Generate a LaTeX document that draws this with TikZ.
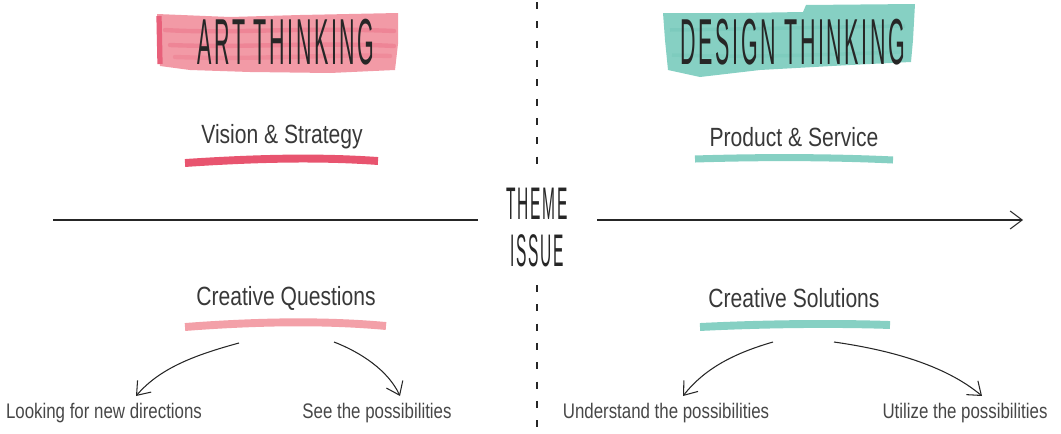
\documentclass[tikz,border=0pt]{standalone}
\usepackage{fontspec}
\setmainfont{Liberation Sans}
\newfontfamily\titlefont[FakeStretch=0.33,LetterSpace=4]{Liberation Sans}
\newfontfamily\themefont[FakeStretch=0.34,LetterSpace=4]{Liberation Sans}
\newfontfamily\handfont[FakeStretch=0.8]{Liberation Sans}
\usetikzlibrary{arrows.meta}
\definecolor{artpink}{HTML}{F29AA6}
\definecolor{artdark}{HTML}{E8607A}
\definecolor{visionpink}{HTML}{E8546F}
\definecolor{questpink}{HTML}{F3A0A8}
\definecolor{teal}{HTML}{86D0C3}
\definecolor{tealdark}{HTML}{74C6B8}
\begin{document}
\begin{tikzpicture}[x=0.02cm,y=-0.02cm,
  title/.style={font=\titlefont\fontsize{37}{37}\selectfont, text=black!85, inner sep=0},
  themetext/.style={font=\themefont\fontsize{26}{26}\selectfont, text=black!85, inner sep=0, text height=19pt, text depth=0pt},
  sub/.style={font=\handfont\fontsize{15}{18}\selectfont, text=black!78, inner sep=0},
  lbl/.style={font=\handfont\fontsize{12}{14}\selectfont, text=black!72, inner sep=0},
  conn/.style={line width=0.6pt, black!85, -{Straight Barb[length=2.4mm,width=3.6mm]}},
  axis/.style={line width=0.6pt, black!85},
  divider/.style={line width=0.6pt, black!85, dash pattern=on 4pt off 7pt},
  brushline/.style={line width=#1, line cap=butt},
  streak/.style={line width=2.5pt, artdark, opacity=0.35, line cap=round}
]
\useasboundingbox (0,0) rectangle (1061,433);

% ---------- brush bands ----------
\fill[artpink] (157,14) -- (230,17) -- (300,15) -- (398,13) -- (398,44) -- (395,70)
  -- (330,73) -- (250,72) -- (190,70) -- (160,66) -- (158,40) -- cycle;
\draw[streak] (165,30) .. controls (230,34) and (300,27) .. (394,31);
\draw[streak] (170,45) .. controls (240,48) and (320,42) .. (394,46);
\draw[streak, opacity=0.25] (175,57) .. controls (260,60) and (330,54) .. (390,56);
\draw[line width=3pt, artdark] (159,16) -- (160,64);
\fill[teal] (663,13) -- (740,13) -- (803,12) -- (806,5) -- (915,4) -- (913,40) -- (911,62)
  -- (850,65) -- (760,70) -- (700,77) -- (668,70) -- (665,40) -- cycle;
\draw[line width=2pt, tealdark, opacity=0.5] (670,30) .. controls (750,29) and (830,27) .. (905,26);
\draw[line width=2pt, tealdark, opacity=0.4] (672,55) .. controls (760,58) and (840,54) .. (900,52);

% ---------- titles ----------
\node[title] (art) at (286,42) {ART THINKING};
\node[title] (design) at (793,42) {DESIGN THINKING};

% ---------- upper subtitles ----------
\node[sub] (vision) at (282,137) {Vision \& Strategy};
\draw[brushline=4.5pt, visionpink] (185,163) .. controls (260,158) and (320,157) .. (378,161);
\node[sub] (product) at (794,137) {Product \& Service};
\draw[brushline=4pt, teal] (695,159) .. controls (760,157) and (830,157) .. (893,160);

% ---------- centre ----------
\node[themetext] (theme) at (537,203) {THEME};
\node[themetext] (issue) at (537,250) {ISSUE};
\coordinate (divtop) at (537,2);
\coordinate (divtopend) at (537,172);
\coordinate (divbot) at (537,285);
\coordinate (divbotend) at (537,433);
\draw[divider] (divtop) -- (divtopend);
\draw[divider] (divbot) -- (divbotend);

\coordinate (axl) at (53,220);
\coordinate (axlend) at (478,220);
\coordinate (axr) at (597,220);
\coordinate (axrend) at (1023,220);
\draw[axis] (axl) -- (axlend);
\draw[axis, -{Straight Barb[length=2.4mm,width=3.6mm]}] (axr) -- (axrend);

% ---------- lower subtitles ----------
\node[sub] (questions) at (286,298) {Creative Questions};
\draw[brushline=4.5pt, questpink] (185,327) .. controls (250,322) and (320,320) .. (386,326);
\node[sub] (solutions) at (794,298) {Creative Solutions};
\draw[brushline=4.5pt, teal] (700,327) .. controls (760,324) and (830,323) .. (890,325);

% ---------- labels ----------
\node[lbl] (l1) at (104,413) {Looking for new directions};
\node[lbl] (l2) at (377,413) {See the possibilities};
\node[lbl] (l3) at (666,413) {Understand the possibilities};
\node[lbl] (l4) at (965,413) {Utilize the possibilities};

% ---------- connectors ----------
\coordinate (q1) at (239,343);
\coordinate (q2) at (334,342);
\coordinate (s1) at (773,342);
\coordinate (s2) at (834,342);
\coordinate (e1) at (136,396);
\coordinate (e2) at (400,396);
\coordinate (e3) at (683,396);
\coordinate (e4) at (982,396);
\draw[conn] (q1) .. controls (195,355) and (160,368) .. (e1);
\draw[conn] (q2) .. controls (360,352) and (388,370) .. (e2);
\draw[conn] (s1) .. controls (735,353) and (705,368) .. (e3);
\draw[conn] (s2) .. controls (890,350) and (945,365) .. (e4);
\end{tikzpicture}
\end{document}
